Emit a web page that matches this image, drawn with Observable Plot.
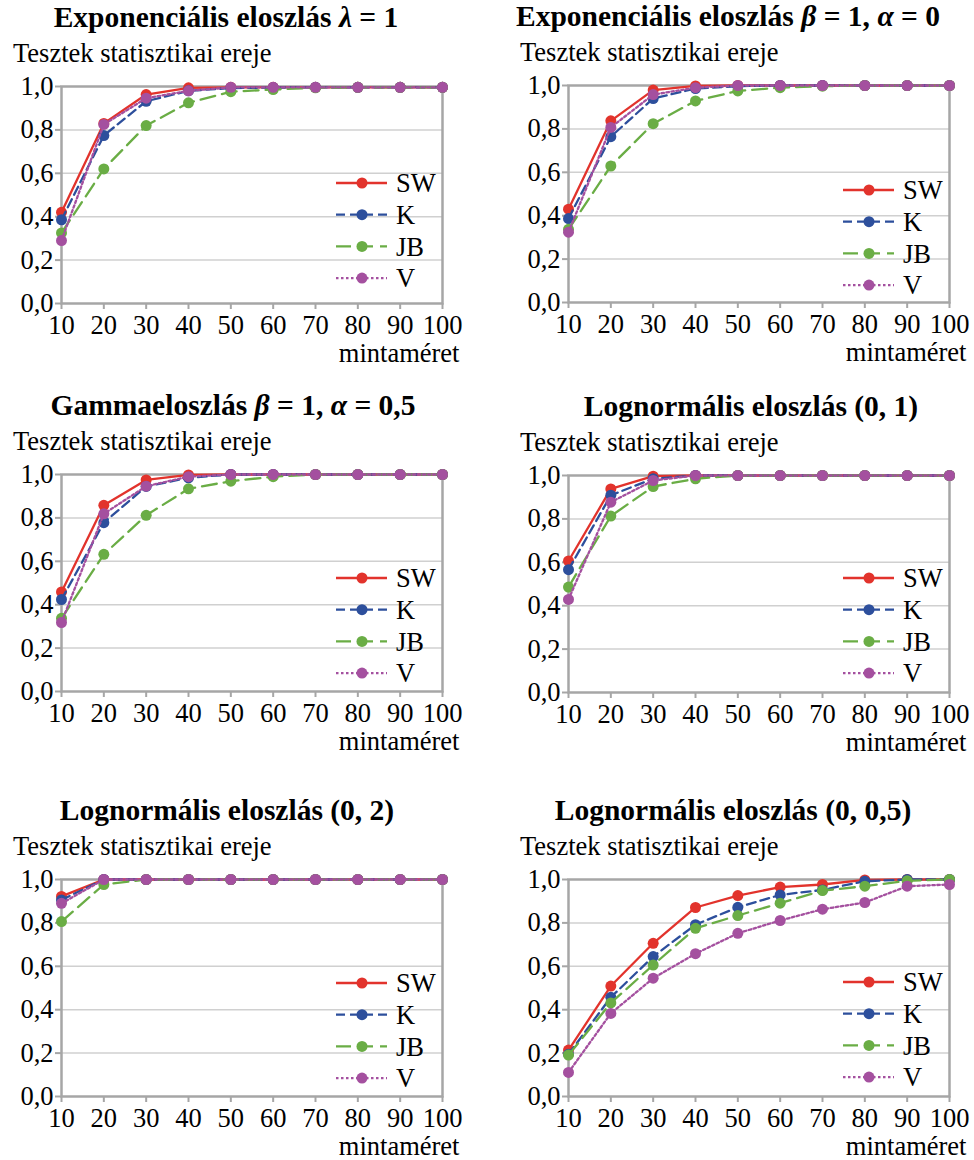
<!DOCTYPE html>
<html><head><meta charset="utf-8">
<script src="https://cdn.jsdelivr.net/npm/d3@7"></script>
<script src="https://cdn.jsdelivr.net/npm/@observablehq/plot@0.6"></script>
<style>
html,body{margin:0;padding:0;background:#fff;overflow:hidden}
#root{position:relative;width:974px;height:1160px;background:#fff}
.panel{position:absolute}
#root svg, #root svg text, #root svg tspan{font-family:"Liberation Serif","Times New Roman",serif !important}
</style></head><body><div id="root"></div>
<script>
// ---------- data ----------
const sampleSizes = [10, 20, 30, 40, 50, 60, 70, 80, 90, 100];
const yTicks = [0, 0.2, 0.4, 0.6, 0.8, 1.0];
const seriesNames = ["SW", "K", "JB", "V"];

// Exponenciális eloszlás λ = 1
const expLambda_SW = [0.42, 0.83, 0.963, 0.994, 0.996, 0.996, 0.996, 0.996, 0.996, 0.996];
const expLambda_K  = [0.386, 0.774, 0.932, 0.98, 0.993, 0.995, 0.996, 0.996, 0.996, 0.996];
const expLambda_JB = [0.325, 0.62, 0.82, 0.925, 0.976, 0.986, 0.994, 0.996, 0.996, 0.996];
const expLambda_V  = [0.29, 0.825, 0.946, 0.98, 0.996, 0.996, 0.996, 0.996, 0.996, 0.996];

// Exponenciális eloszlás β = 1, α = 0
const expBeta_SW = [0.43, 0.837, 0.979, 0.998, 1, 1, 1, 1, 1, 1];
const expBeta_K  = [0.387, 0.764, 0.94, 0.986, 0.997, 1, 1, 1, 1, 1];
const expBeta_JB = [0.337, 0.629, 0.824, 0.929, 0.975, 0.99, 0.997, 1, 1, 1];
const expBeta_V  = [0.324, 0.807, 0.958, 0.99, 1, 1, 1, 1, 1, 1];

// Gammaeloszlás β = 1, α = 0,5
const gamma_SW = [0.459, 0.858, 0.975, 0.998, 1, 1, 1, 1, 1, 1];
const gamma_K  = [0.424, 0.778, 0.945, 0.985, 1, 1, 1, 1, 1, 1];
const gamma_JB = [0.337, 0.632, 0.812, 0.934, 0.969, 0.99, 1, 1, 1, 1];
const gamma_V  = [0.318, 0.819, 0.946, 0.99, 1, 1, 1, 1, 1, 1];

// Lognormális eloszlás (0, 1)
const logn1_SW = [0.606, 0.938, 0.997, 1, 1, 1, 1, 1, 1, 1];
const logn1_K  = [0.566, 0.909, 0.985, 1, 1, 1, 1, 1, 1, 1];
const logn1_JB = [0.486, 0.813, 0.949, 0.985, 1, 1, 1, 1, 1, 1];
const logn1_V  = [0.429, 0.877, 0.977, 1, 1, 1, 1, 1, 1, 1];

// Lognormális eloszlás (0, 2)
const logn2_SW = [0.922, 1, 1, 1, 1, 1, 1, 1, 1, 1];
const logn2_K  = [0.906, 1, 1, 1, 1, 1, 1, 1, 1, 1];
const logn2_JB = [0.806, 0.977, 1, 1, 1, 1, 1, 1, 1, 1];
const logn2_V  = [0.89, 1, 1, 1, 1, 1, 1, 1, 1, 1];

// Lognormális eloszlás (0, 0,5)
const logn05_SW = [0.214, 0.509, 0.706, 0.871, 0.926, 0.965, 0.977, 0.998, 1, 1];
const logn05_K  = [0.195, 0.457, 0.645, 0.792, 0.872, 0.929, 0.952, 0.992, 1, 1];
const logn05_JB = [0.191, 0.431, 0.606, 0.775, 0.834, 0.891, 0.949, 0.969, 0.994, 1];
const logn05_V  = [0.111, 0.383, 0.545, 0.658, 0.752, 0.811, 0.863, 0.894, 0.969, 0.977];

// titles as [text, italic] segments
const panelTitles = [
  [["Exponenciális eloszlás ", false], ["λ", true], [" = 1", false]],
  [["Exponenciális eloszlás ", false], ["β", true], [" = 1, ", false], ["α", true], [" = 0", false]],
  [["Gammaeloszlás ", false], ["β", true], [" = 1, ", false], ["α", true], [" = 0,5", false]],
  [["Lognormális eloszlás (0, 1)", false]],
  [["Lognormális eloszlás (0, 2)", false]],
  [["Lognormális eloszlás (0, 0,5)", false]]
];
const yLabel = "Tesztek statisztikai ereje";
const xLabel = "mintaméret";

const panelData = [
  [expLambda_SW, expLambda_K, expLambda_JB, expLambda_V],
  [expBeta_SW, expBeta_K, expBeta_JB, expBeta_V],
  [gamma_SW, gamma_K, gamma_JB, gamma_V],
  [logn1_SW, logn1_K, logn1_JB, logn1_V],
  [logn2_SW, logn2_K, logn2_JB, logn2_V],
  [logn05_SW, logn05_K, logn05_JB, logn05_V]
];

// ---------- styles / layout ----------
const FONT = '"Liberation Serif","Times New Roman",serif';
const colors = {SW: "#e2332c", K: "#2d4f9c", JB: "#6aad45", V: "#a4509f"};
const dashes = {SW: null, K: "9,5", JB: "15,7", V: "2.5,2.5"};
const MT = 86, PH = 217, MB = 66, W = 487;

const layout = [
  {left: 0,   top: 0,   ml: 61, mr: 45, tc: 226, lt: 97},
  {left: 487, top: -1,  ml: 81, mr: 25, tc: 241, lt: 105},
  {left: 0,   top: 388, ml: 61, mr: 45, tc: 233, lt: 104},
  {left: 487, top: 389, ml: 81, mr: 25, tc: 264, lt: 103},
  {left: 0,   top: 793, ml: 61, mr: 45, tc: 227, lt: 104},
  {left: 487, top: 793, ml: 81, mr: 25, tc: 246, lt: 103}
];

const root = document.getElementById("root");

panelData.forEach((series, i) => {
  const L = layout[i];
  const rows = [];
  series.forEach((vals, s) => vals.forEach((v, j) => rows.push({n: sampleSizes[j], p: v, s: seriesNames[s]})));

  const marks = [
    Plot.gridY(yTicks.slice(1, -1), {stroke: "#d0d0d0", strokeOpacity: 1, strokeWidth: 1.5}),
    Plot.frame({stroke: "#a6a6a6", strokeWidth: 2.5}),
    Plot.axisY(yTicks, {tickSize: 6, tickPadding: 2, stroke: "#a6a6a6", strokeWidth: 2,
      tickFormat: d => d.toFixed(1).replace(".", ","), label: null}),
    Plot.axisX(sampleSizes, {tickSize: 6, tickPadding: 6, stroke: "#a6a6a6", strokeWidth: 2,
      tickFormat: d => String(d), label: null})
  ];
  seriesNames.forEach(name => {
    const d = rows.filter(r => r.s === name);
    marks.push(Plot.line(d, {x: "n", y: "p", stroke: colors[name], strokeWidth: 2.3,
      strokeDasharray: dashes[name], curve: "linear"}));
    marks.push(Plot.dot(d, {x: "n", y: "p", r: 5.5, fill: colors[name], stroke: "none"}));
  });
  marks.push(Plot.text([xLabel], {frameAnchor: "bottom-right", textAnchor: "end", lineAnchor: "bottom",
    dx: 17, dy: 58, fill: "#000", fontSize: 26.5}));

  const svg = Plot.plot({
    width: W,
    height: MT + PH + MB,
    marginTop: MT, marginBottom: MB, marginLeft: L.ml, marginRight: L.mr,
    x: {domain: [10, 100]},
    y: {domain: [0, 1]},
    style: {fontFamily: FONT, fontSize: "26.5px", color: "#000", background: "transparent", overflow: "visible"},
    marks
  });

  const s = d3.select(svg);
  // title
  const t = s.append("text")
    .attr("x", L.tc).attr("y", MT - 59)
    .attr("text-anchor", "middle")
    .attr("font-weight", "bold").attr("font-size", 29.5)
    .attr("fill", "#000").style("white-space", "pre");
  panelTitles[i].forEach(([txt, it]) => {
    const ts = t.append("tspan").text(txt);
    if (it) ts.attr("font-style", "italic");
  });
  // y label
  s.append("text")
    .attr("x", L.ml - 48).attr("y", MT - 24)
    .attr("text-anchor", "start")
    .attr("font-size", 26.5).attr("fill", "#000")
    .text(yLabel);
  // legend
  const fr = W - L.mr;
  const g = s.append("g");
  seriesNames.forEach((name, k) => {
    const y = MT + L.lt + k * 31.7;
    g.append("line").attr("x1", fr - 106).attr("x2", fr - 55).attr("y1", y).attr("y2", y)
      .attr("stroke", colors[name]).attr("stroke-width", 2.3)
      .attr("stroke-dasharray", dashes[name]);
    g.append("circle").attr("cx", fr - 80).attr("cy", y).attr("r", 5.5).attr("fill", colors[name]);
    g.append("text").attr("x", fr - 46).attr("y", y).attr("dy", "0.35em")
      .attr("text-anchor", "start")
      .attr("font-size", 26.5).attr("fill", "#000").text(name);
  });

  const div = document.createElement("div");
  div.className = "panel";
  div.style.left = L.left + "px";
  div.style.top = L.top + "px";
  div.appendChild(svg);
  root.appendChild(div);
});
</script></body></html>
